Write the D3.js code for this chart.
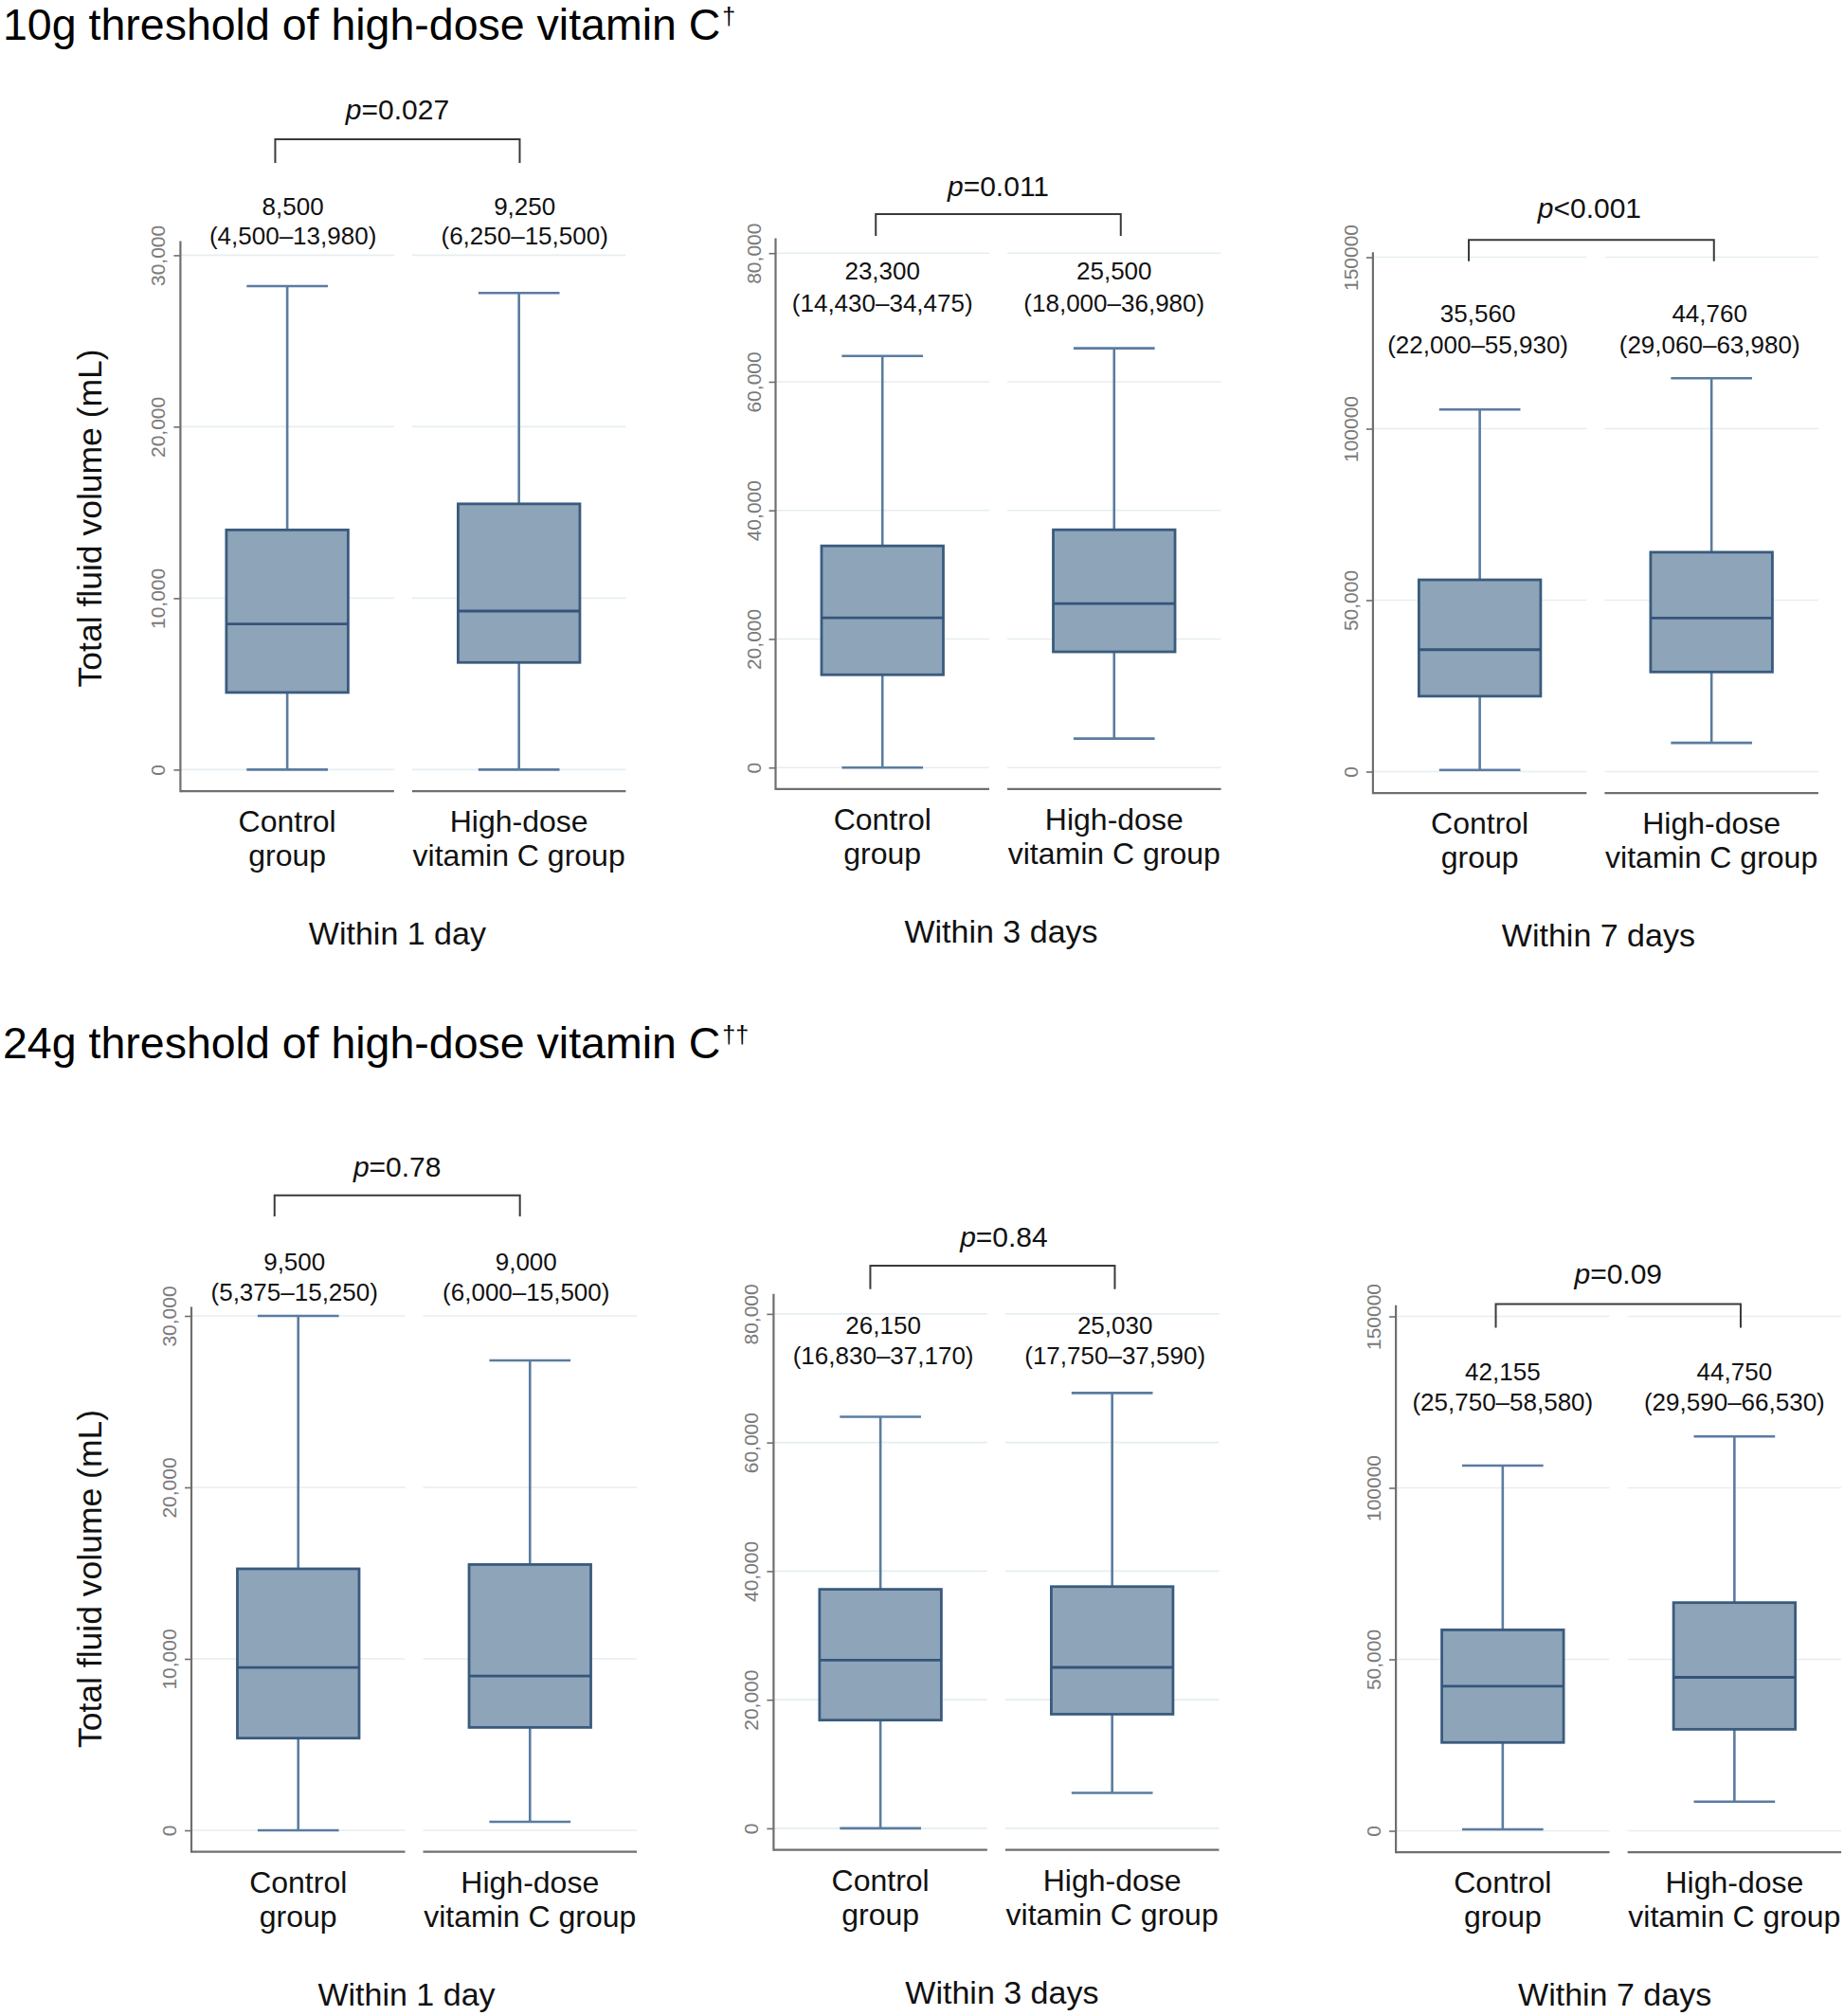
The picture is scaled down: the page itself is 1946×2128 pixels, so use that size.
<!DOCTYPE html>
<html><head><meta charset="utf-8">
<script src="https://cdn.jsdelivr.net/npm/d3@7"></script>
<style>
html,body{margin:0;padding:0;background:#fff;}
svg{display:block;font-family:"Liberation Sans", Arial, Helvetica, sans-serif;}
</style></head><body>
<svg id="chart" width="1946" height="2128"></svg>
<script>
// ---------------- DATA ----------------
const groups = ["Control group", "High-dose vitamin C group"];
const groupLabelLines = [["Control", "group"], ["High-dose", "vitamin C group"]];
const periods = ["Within 1 day", "Within 3 days", "Within 7 days"];
const thresholdTitles = ["10g threshold of high-dose vitamin C", "24g threshold of high-dose vitamin C"];
const thresholdMarks = ["\u2020", "\u2020\u2020"];
const yAxisTitle = "Total fluid volume (mL)";
// each entry: [lower whisker, Q1, median, Q3, upper whisker] for day 1, day 3, day 7
const control10g  = [[0, 4500, 8500, 13980, 28200], [0, 14430, 23300, 34475, 64000], [500, 22000, 35560, 55930, 105600]];
const highDose10g = [[0, 6250, 9250, 15500, 27800], [4500, 18000, 25500, 36980, 65200], [8400, 29060, 44760, 63980, 114700]];
const control24g  = [[0, 5375, 9500, 15250, 30000], [0, 16830, 26150, 37170, 64000], [400, 25750, 42155, 58580, 106500]];
const highDose24g = [[500, 6000, 9000, 15500, 27400], [5500, 17750, 25030, 37590, 67700], [8500, 29590, 44750, 66530, 115000]];
const pValues10g = ["=0.027", "=0.011", "<0.001"];
const pValues24g = ["=0.78", "=0.84", "=0.09"];
const yTickValues = [[0, 10000, 20000, 30000], [0, 20000, 40000, 60000, 80000], [0, 50000, 100000, 150000]];
const yTickLabels = [["0", "10,000", "20,000", "30,000"], ["0", "20,000", "40,000", "60,000", "80,000"], ["0", "50,000", "100000", "150000"]];

// ---------------- LAYOUT ----------------
const layout = [
  {axisX:190.4,  y0:812.4,  topPad:14.8, pBase:126,    brY:147,    brBot:172,    brDx:[-12.7, 0.8],  medBase:226.7,  iqrBase:258,    labelDx:6,  pDx:0,  perDx:-6},
  {axisX:818.5,  y0:810.2,  topPad:15.7, pBase:207,    brY:226,    brBot:249,    brDx:[-7, 7],       medBase:295,    iqrBase:329,    labelDx:0,  pDx:0,  perDx:3},
  {axisX:1448.9, y0:814.5,  topPad:5.2,  pBase:230.3,  brY:253.3,  brBot:275.8,  brDx:[-11.6, 2.6], medBase:340,    iqrBase:372.6,  labelDx:-2, pDx:-2, perDx:3},
  {axisX:202,    y0:1932,   topPad:9.5,  pBase:1242.3, brY:1261.7, brBot:1284,   brDx:[-25, -10.6],  medBase:1341,   iqrBase:1372.9, labelDx:-4, pDx:0,  perDx:-8},
  {axisX:816.4,  y0:1929.9, topPad:21.1, pBase:1316,   brY:1335.9, brBot:1360.7, brDx:[-10.7, 2.8], medBase:1408.2, iqrBase:1440,   labelDx:3,  pDx:12, perDx:6},
  {axisX:1473.1, y0:1932.5, topPad:11.7, pBase:1355.4, brY:1376.6, brBot:1401.4, brDx:[-7.3, 6.6],  medBase:1457.3, iqrBase:1489,   labelDx:0,  pDx:0,  perDx:-4}
];
const plotH = 543, plotW = 470, xAxisGap = 22.7;
const titleBaselines = [42, 1117];

const COL = {
  fill: "#8ea4b9", stroke: "#3a5b7e", whisker: "#5a7ca0", median: "#34557a",
  grid: "#e6eef1", axis: "#6f6f6f", tick: "#7a7a7a", text: "#111"
};

const svg = d3.select("#chart");
const fmt = d3.format(",");
const statsByRow = [[control10g, highDose10g], [control24g, highDose24g]];
const pByRow = [pValues10g, pValues24g];

// titles
thresholdTitles.forEach((t, r) => {
  const tx = svg.append("text").attr("x", 3).attr("y", titleBaselines[r])
    .attr("font-size", 46.5).attr("fill", "#000").text(t);
  tx.append("tspan").attr("font-size", 25).attr("dy", -16).attr("dx", 2).text(thresholdMarks[r]);
});

for (let r = 0; r < 2; r++) {
  for (let c = 0; c < 3; c++) {
    const L = layout[r * 3 + c];
    const ticks = yTickValues[c];
    const tickLbl = yTickLabels[c];
    const top = ticks[ticks.length - 1];
    const x = d3.scaleBand().domain(groups).range([L.axisX, L.axisX + plotW]).paddingInner(0.078).paddingOuter(0);
    const y = d3.scaleLinear().domain([0, top]).range([L.y0, L.y0 - plotH]);
    const bw = x.bandwidth();
    const xAxisY = L.y0 + xAxisGap;
    const axisTop = y(top) - L.topPad;
    const g = svg.append("g");
    const series = [statsByRow[r][0][c], statsByRow[r][1][c]];

    // gridlines per band
    groups.forEach(gr => {
      g.selectAll(null).data(ticks).enter().append("line")
        .attr("x1", x(gr)).attr("x2", x(gr) + bw)
        .attr("y1", d => y(d)).attr("y2", d => y(d))
        .attr("stroke", COL.grid).attr("stroke-width", 1.6);
    });

    // boxes
    const boxW = bw * 0.57, capW = bw * 0.38;
    groups.forEach((gr, gi) => {
      const s = series[gi];
      const cx = x(gr) + bw / 2;
      const bg = g.append("g");
      bg.append("line").attr("x1", cx).attr("x2", cx).attr("y1", y(s[3])).attr("y2", y(s[4]))
        .attr("stroke", COL.whisker).attr("stroke-width", 2.6);
      bg.append("line").attr("x1", cx).attr("x2", cx).attr("y1", y(s[1])).attr("y2", y(s[0]))
        .attr("stroke", COL.whisker).attr("stroke-width", 2.6);
      [s[0], s[4]].forEach(v => {
        bg.append("line").attr("x1", cx - capW / 2).attr("x2", cx + capW / 2)
          .attr("y1", y(v)).attr("y2", y(v)).attr("stroke", COL.whisker).attr("stroke-width", 2.6);
      });
      bg.append("rect").attr("x", cx - boxW / 2).attr("width", boxW)
        .attr("y", y(s[3])).attr("height", y(s[1]) - y(s[3]))
        .attr("fill", COL.fill).attr("stroke", COL.stroke).attr("stroke-width", 2.8);
      bg.append("line").attr("x1", cx - boxW / 2).attr("x2", cx + boxW / 2)
        .attr("y1", y(s[2])).attr("y2", y(s[2])).attr("stroke", COL.median).attr("stroke-width", 2.8);

      // annotation labels
      g.append("text").attr("x", cx + L.labelDx).attr("y", L.medBase).attr("text-anchor", "middle")
        .attr("font-size", 26).attr("fill", COL.text).text(fmt(s[2]));
      g.append("text").attr("x", cx + L.labelDx).attr("y", L.iqrBase).attr("text-anchor", "middle")
        .attr("font-size", 26).attr("fill", COL.text).text("(" + fmt(s[1]) + "\u2013" + fmt(s[3]) + ")");

      // category labels
      const t = g.append("text").attr("text-anchor", "middle").attr("font-size", 32).attr("fill", COL.text);
      groupLabelLines[gi].forEach((ln, li) => {
        t.append("tspan").attr("x", cx).attr("y", xAxisY + 43 + li * 36).text(ln);
      });
    });

    // x-axis line segments
    groups.forEach(gr => {
      g.append("line").attr("x1", x(gr)).attr("x2", x(gr) + bw).attr("y1", xAxisY).attr("y2", xAxisY)
        .attr("stroke", COL.axis).attr("stroke-width", 2.2);
    });
    // y axis
    const ya = g.append("g").attr("transform", `translate(${L.axisX},0)`)
      .call(d3.axisLeft(y).tickValues(ticks).tickFormat((d, i) => tickLbl[i]).tickSize(7).tickPadding(0));
    ya.select(".domain").remove();
    ya.selectAll(".tick line").attr("stroke", COL.axis).attr("stroke-width", 1.6);
    ya.selectAll(".tick text")
      .attr("transform", "rotate(-90)").attr("x", 0).attr("y", -16).attr("dy", null)
      .attr("text-anchor", "middle").attr("font-size", 21).attr("fill", COL.tick)
      .attr("font-family", "'Liberation Sans', Arial, sans-serif");
    g.append("line").attr("x1", L.axisX).attr("x2", L.axisX).attr("y1", axisTop).attr("y2", xAxisY + 1.1)
      .attr("stroke", COL.axis).attr("stroke-width", 2.2);

    // period label
    const c1 = x(groups[0]) + bw / 2, c2 = x(groups[1]) + bw / 2;
    g.append("text").attr("x", (c1 + c2) / 2 + L.perDx).attr("y", xAxisY + 162).attr("text-anchor", "middle")
      .attr("font-size", 34).attr("fill", COL.text).text(periods[c]);

    // bracket + p value
    const bl = c1 + L.brDx[0], br = c2 + L.brDx[1];
    g.append("path").attr("d", `M${bl},${L.brBot}V${L.brY}H${br}V${L.brBot}`)
      .attr("fill", "none").attr("stroke", "#3a3a3a").attr("stroke-width", 2);
    const pt = g.append("text").attr("x", (bl + br) / 2 + L.pDx).attr("y", L.pBase).attr("text-anchor", "middle")
      .attr("font-size", 30).attr("fill", COL.text);
    pt.append("tspan").attr("font-style", "italic").text("p");
    pt.append("tspan").text(pByRow[r][c]);

    // y axis title
    if (c === 0) {
      g.append("text").attr("transform", `translate(95,${L.y0 - plotH / 2 + 6}) rotate(-90)`)
        .attr("text-anchor", "middle").attr("dominant-baseline", "central")
        .attr("font-size", 35.5).attr("fill", COL.text).text(yAxisTitle);
    }
  }
}
</script>
</body></html>
